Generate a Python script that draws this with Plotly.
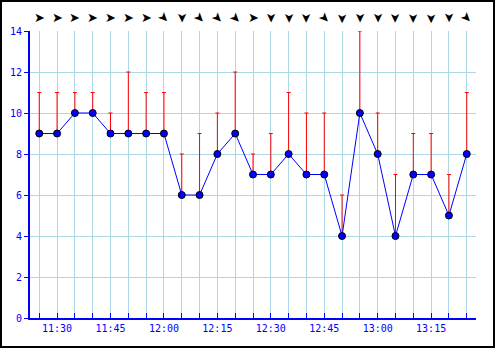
import plotly.graph_objects as go
import pandas as pd

times = ["11:25", "11:30", "11:35", "11:40", "11:45", "11:50", "11:55", "12:00",
         "12:05", "12:10", "12:15", "12:20", "12:25", "12:30", "12:35", "12:40",
         "12:45", "12:50", "12:55", "13:00", "13:05", "13:10", "13:15", "13:20", "13:25"]
speed = [9, 9, 10, 10, 9, 9, 9, 9, 6, 6, 8, 9, 7, 7, 8, 7, 7, 4, 10, 8, 4, 7, 7, 5, 8]
gust = [11, 11, 11, 11, 10, 12, 11, 11, 8, 9, 10, 12, 8, 9, 11, 10, 10, 6, 14, 10, 7, 9, 9, 7, 11]
# arrow heading in degrees (clockwise from north): 90 = east, 135 = south-east, 180 = south
direction = [90, 90, 90, 90, 90, 90, 90, 135, 180, 135, 135, 135, 90, 180, 180, 180,
             135, 180, 180, 180, 180, 180, 180, 180, 135]
y_ticks = [0, 2, 4, 6, 8, 10, 12, 14]

day = "2024-01-01 "
x = pd.to_datetime([day + t for t in times])
pad = pd.Timedelta(minutes=2.6)
xrange = [x[0] - pad, x[-1] + pad]

BLUE = "#0000ff"
GRID = "#add8e6"
FONT = dict(family="DejaVu Sans Mono", size=10, color=BLUE)

W, H = 495, 348
L, R, T, B = 30, 19, 31, 30
pw, ph = W - L - R, H - T - B
arrow_px = 18          # pixel row of the arrows
arrow_y = 1 + (T - arrow_px) / ph

fig = go.Figure()
fig.add_trace(go.Scatter(
    x=x, y=speed, mode="lines+markers",
    line=dict(color=BLUE, width=1),
    marker=dict(size=7, color=BLUE, line=dict(color="black", width=1)),
    error_y=dict(type="data", symmetric=False,
                 array=[g - s for g, s in zip(gust, speed)],
                 arrayminus=[0] * len(speed),
                 color="red", thickness=1, width=2),
    showlegend=False, hoverinfo="skip",
))

for xi, d in zip(x, direction):
    fig.add_annotation(x=xi, y=arrow_y, xref="x", yref="paper",
                       text="\u27A4", showarrow=False, textangle=d - 90,
                       font=dict(family="DejaVu Sans", size=13, color="black"),
                       xanchor="center", yanchor="middle")

fig.add_shape(type="rect", xref="paper", yref="paper",
              x0=(1 - L) / pw, x1=(W - 1 - L) / pw,
              y0=-(B - 1) / ph, y1=1 + (T - 1) / ph,
              line=dict(color="black", width=2), layer="above")

fig.update_layout(
    width=W, height=H,
    margin=dict(l=L, r=R, t=T, b=B, pad=0, autoexpand=False),
    paper_bgcolor="white", plot_bgcolor="white",
    font=FONT,
    xaxis=dict(
        type="date", range=xrange, automargin=False,
        tick0=day + "11:30", dtick=15 * 60 * 1000, tickformat="%H:%M",
        ticks="inside", ticklen=5, tickcolor=BLUE, tickwidth=1,
        showgrid=True, gridcolor=GRID, gridwidth=1,
        showline=True, linecolor=BLUE, linewidth=2,
        zeroline=False, tickfont=FONT,
        minor=dict(tick0=day + "11:25", dtick=5 * 60 * 1000, ticks="inside",
                   ticklen=5, tickcolor=BLUE, showgrid=True, gridcolor=GRID,
                   gridwidth=1),
    ),
    yaxis=dict(
        range=[0, 14], tickvals=y_ticks, ticktext=[str(v) for v in y_ticks],
        ticks="outside", ticklen=4, tickcolor=BLUE, automargin=False,
        showgrid=True, gridcolor=GRID, gridwidth=1,
        showline=True, linecolor=BLUE, linewidth=2,
        zeroline=False, tickfont=FONT,
    ),
)

fig.write_html("out.html")
